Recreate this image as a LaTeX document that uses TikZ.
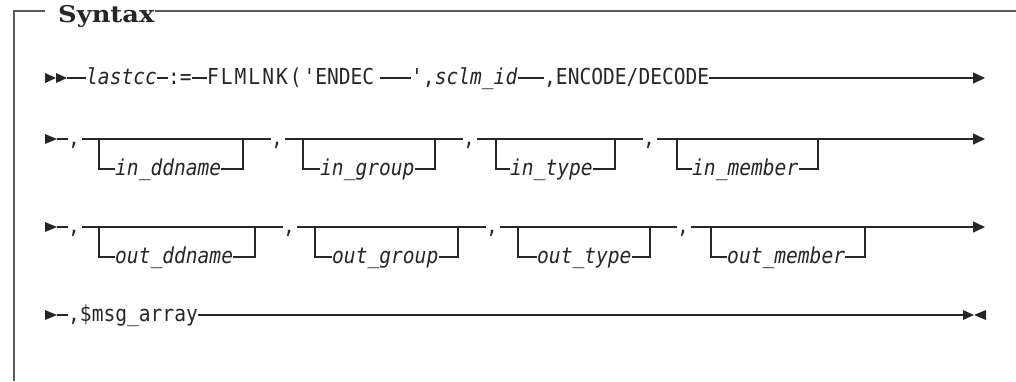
\documentclass[tikz,border=0pt]{standalone}
\usepackage{fontspec}
\usetikzlibrary{arrows.meta}
\newfontfamily\diagfont[FakeStretch=0.89, ItalicFont={DejaVu Sans Mono Oblique}]{DejaVu Sans Mono}
\newfontfamily\titlefont[FakeStretch=1.12]{DejaVu Serif}
\definecolor{lncol}{HTML}{262626}
\definecolor{framecol}{HTML}{5A5A5A}
\tikzset{
  tx/.style={inner sep=0pt, anchor=west, text height=17pt, text depth=5pt, text=lncol, font=\diagfont\fontsize{22}{22}\selectfont},
  itx/.style={tx, font=\diagfont\itshape\fontsize{22}{22}\selectfont},
  ln/.style={draw=lncol, line width=1.3pt},
  tip/.style={fill=lncol},
  frameline/.style={draw=framecol, line width=1.5pt},
  endtip/.style={-{Triangle[length=12pt, width=11pt]}},
  titletext/.style={inner sep=0pt, anchor=base west, text=black!85},
}
\begin{document}
\begin{tikzpicture}[x=1pt, y=-1pt]
\useasboundingbox (0,0) rectangle (1016,381);
% frame and title
\node[titletext] (title) at (58,22.5) {\titlefont\bfseries\fontsize{23}{26}\selectfont Syntax};
\coordinate (fl) at (45,11);
\coordinate (fr) at (155,11);
\draw[frameline] (fl) -- (14,11) -- (14,381);
\draw[frameline] (fr) -- (1016,11);

% ---------- row 1 ----------
\fill[tip] (45,73) -- (56,78) -- (45,83) -- cycle;
\fill[tip] (56,73) -- (67,78) -- (56,83) -- cycle;
\coordinate (r1s) at (67,78);
\node[itx] (lastcc) at (86,78) {lastcc};
\node[tx] (assign) at (168,78) {:=};
\node[tx] (flm) at (207,78) {{\addfontfeature{LetterSpace=9}FLMLNK('}ENDEC};
\node[tx] (sclm) at (411,78) {',\textit{sclm\_id}};
\node[tx] (enc) at (544,78) {,ENCODE/DECODE};
\coordinate (r1e) at (985,78);
\draw[ln] (r1s) -- (lastcc.west);
\draw[ln] (lastcc.east) -- (assign.west);
\draw[ln] (assign.east) -- (flm.west);
\draw[ln] ([xshift=5pt]flm.east) -- (sclm.west);
\draw[ln] (sclm.east) -- (enc.west);
\draw[ln, endtip] (enc.east) -- (r1e);

% ---------- row 2 ----------
\fill[tip] (45,134) -- (57,139) -- (45,144) -- cycle;
\coordinate (r2s) at (57,139);
\node[tx] (c21) at (68,139) {,};
\node[tx] (c22) at (271,139) {,};
\node[tx] (c23) at (463,139) {,};
\node[tx] (c24) at (643,139) {,};
\coordinate (r2e) at (985,139);
\draw[ln] (r2s) -- (c21.west);
\draw[ln] ([xshift=2pt]c21.east) -- (c22.west);
\draw[ln] ([xshift=2pt]c22.east) -- (c23.west);
\draw[ln] ([xshift=2pt]c23.east) -- (c24.west);
\draw[ln, endtip] ([xshift=2pt]c24.east) -- (r2e);
% branches
\node[itx] (o21) at (115,169) {in\_ddname};
\coordinate (o21l) at (99,139); \coordinate (o21r) at (243,139);
\node[itx] (o22) at (320,169) {in\_group};
\coordinate (o22l) at (303,139); \coordinate (o22r) at (435,139);
\node[itx] (o23) at (510,169) {in\_type};
\coordinate (o23l) at (496,139); \coordinate (o23r) at (615,139);
\node[itx] (o24) at (692,169) {in\_member};
\coordinate (o24l) at (677,139); \coordinate (o24r) at (818,139);
\foreach \b in {o21,o22,o23,o24}{
  \draw[ln] (\b l) |- (\b.west);
  \draw[ln] (\b.east) -| (\b r);
}

% ---------- row 3 ----------
\fill[tip] (45,222) -- (57,227) -- (45,232) -- cycle;
\coordinate (r3s) at (57,227);
\node[tx] (c31) at (68,227) {,};
\node[tx] (c32) at (283,227) {,};
\node[tx] (c33) at (486,227) {,};
\node[tx] (c34) at (677,227) {,};
\coordinate (r3e) at (985,227);
\draw[ln] (r3s) -- (c31.west);
\draw[ln] ([xshift=2pt]c31.east) -- (c32.west);
\draw[ln] ([xshift=2pt]c32.east) -- (c33.west);
\draw[ln] ([xshift=2pt]c33.east) -- (c34.west);
\draw[ln, endtip] ([xshift=2pt]c34.east) -- (r3e);
\node[itx] (o31) at (115,257) {out\_ddname};
\coordinate (o31l) at (99,227); \coordinate (o31r) at (255,227);
\node[itx] (o32) at (332,257) {out\_group};
\coordinate (o32l) at (315,227); \coordinate (o32r) at (458,227);
\node[itx] (o33) at (537,257) {out\_type};
\coordinate (o33l) at (518,227); \coordinate (o33r) at (650,227);
\node[itx] (o34) at (727,257) {out\_member};
\coordinate (o34l) at (711,227); \coordinate (o34r) at (865,227);
\foreach \b in {o31,o32,o33,o34}{
  \draw[ln] (\b l) |- (\b.west);
  \draw[ln] (\b.east) -| (\b r);
}

% ---------- row 4 ----------
\fill[tip] (45,310) -- (57,315) -- (45,320) -- cycle;
\coordinate (r4s) at (57,315);
\node[tx] (msg) at (68,315) {,\$msg\_array};
\coordinate (r4e) at (963,315);
\draw[ln] (r4s) -- (msg.west);
\draw[ln] (msg.east) -- (r4e);
\fill[tip] (963,310) -- (974,315) -- (963,320) -- cycle;
\fill[tip] (986,310) -- (974,315) -- (986,320) -- cycle;
\end{tikzpicture}
\end{document}
